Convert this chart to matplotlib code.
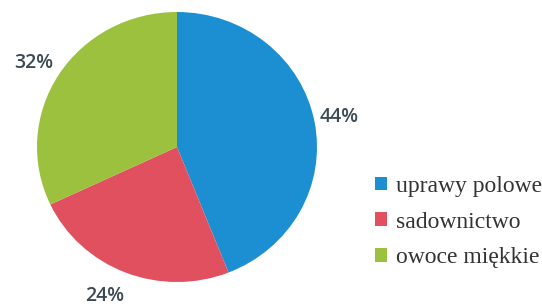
import numpy as np
import matplotlib.pyplot as plt
from matplotlib.patches import Patch

# data
labels = ['uprawy polowe', 'sadownictwo', 'owoce miękkie']
shares = [44, 24, 32]
colors = ['#1b8fd2', '#e1505f', '#9cc13f']

W, H = 542, 307
fig = plt.figure(figsize=(W / 100, H / 100), dpi=100)

# pie box in pixels (slightly squashed ellipse like the original)
x0, x1, y0, y1 = 37, 317, 12, 282
ax = fig.add_axes([x0 / W, (H - y1) / H, (x1 - x0) / W, (y1 - y0) / H])

wedges, texts, autotexts = ax.pie(
    shares, colors=colors, startangle=90, counterclock=False,
    autopct='%d%%', pctdistance=1.2, radius=1,
    wedgeprops=dict(linewidth=0),
    textprops=dict(fontsize=14, fontweight='semibold', color='#3d4a54',
                   family=['Open Sans', 'DejaVu Sans']),
)
ax.set_aspect('auto')
ax.set_xlim(-1, 1)
ax.set_ylim(-1, 1)

# label placement like the original (distance, angular nudge in degrees)
label_dist = [1.18, 1.215, 1.20]
label_nudge = [0, -3.5, 1.2]
for w, t, d, n in zip(wedges, autotexts, label_dist, label_nudge):
    ang = np.deg2rad((w.theta1 + w.theta2) / 2 + n)
    t.set_position((d * np.cos(ang), d * np.sin(ang)))
    t.set_clip_on(False)

handles = [Patch(facecolor=c, edgecolor='none') for c in colors]
fig.legend(handles, labels, loc='center left',
           bbox_to_anchor=(375 / W, (H - 222) / H),
           frameon=False, borderpad=0, borderaxespad=0,
           handlelength=0.52, handleheight=0.52,
           handletextpad=0.35, labelspacing=0.62,
           prop=dict(family='Liberation Serif', size=17),
           labelcolor='#333333')

fig.savefig('out.png', dpi=100)
